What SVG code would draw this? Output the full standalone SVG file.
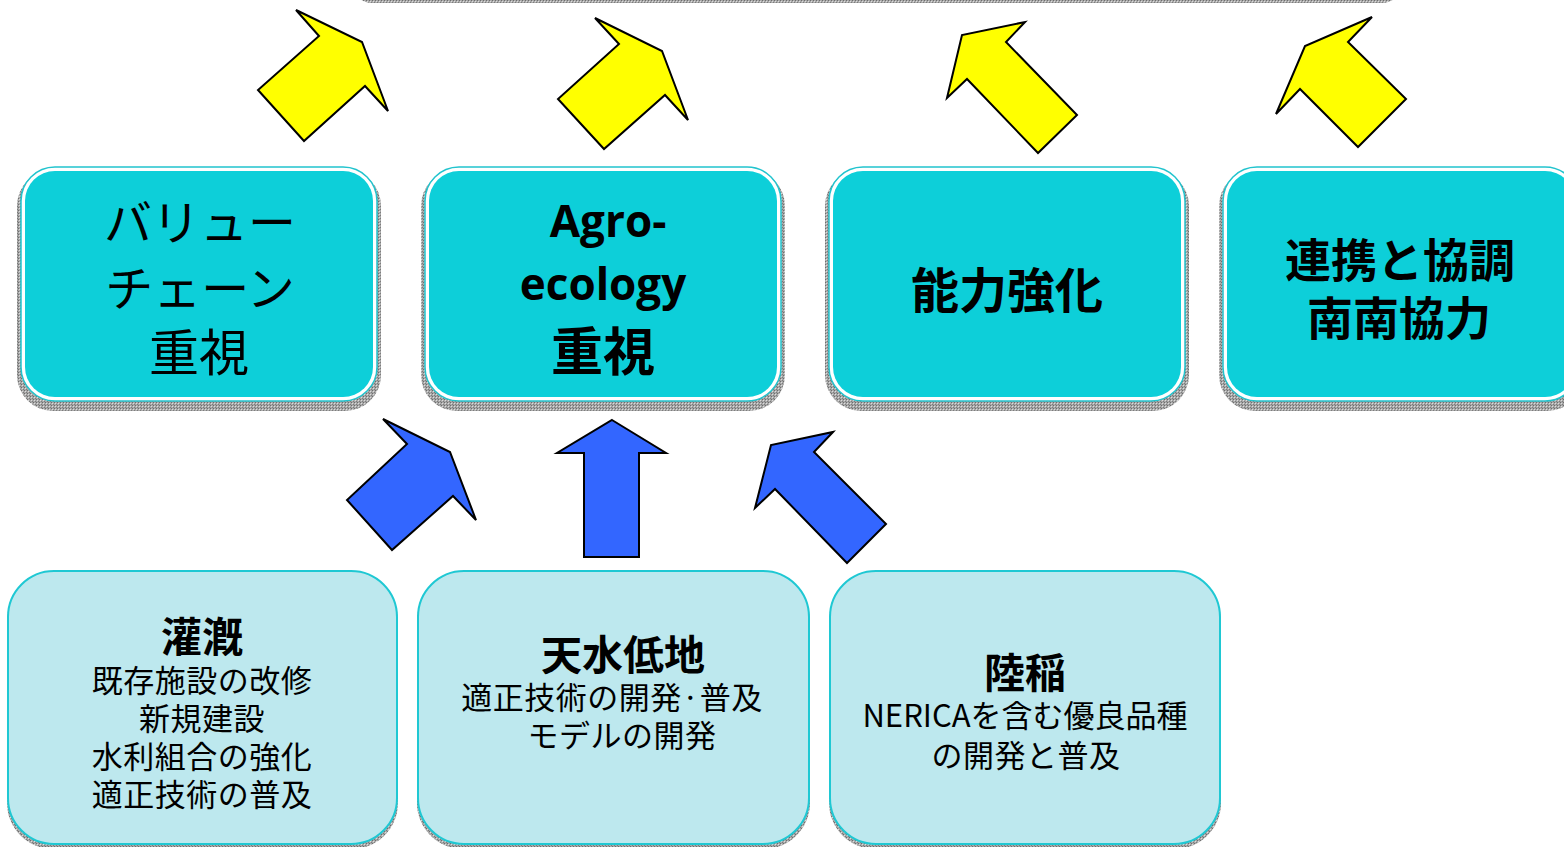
<svg xmlns="http://www.w3.org/2000/svg" width="1564" height="847" viewBox="0 0 1564 847">
<defs>
<pattern id="dith" width="3" height="3" patternUnits="userSpaceOnUse">
<rect width="3" height="3" fill="#a8a8a8"/>
<rect x="0" y="0" width="1" height="1" fill="#6e6e6e"/>
<rect x="1" y="1" width="1" height="1" fill="#dcdcdc"/>
<rect x="2" y="2" width="1" height="1" fill="#7c7c7c"/>
</pattern>
<style>
.sh{fill:url(#dith);}
.tout{fill:#ffffff;stroke:#22c4ce;stroke-width:1.5;}
.tin{fill:#0dcfd9;}
.bbox{fill:#bde8ee;stroke:#1fc8d3;stroke-width:2;}
.ya{fill:#ffff00;stroke:#000;stroke-width:2;stroke-linejoin:miter;}
.ba{fill:#3366ff;stroke:#000;stroke-width:2;stroke-linejoin:miter;}
.jp{font-family:"Noto Sans CJK JP","Noto Sans",sans-serif;fill:#000;text-anchor:middle;}
.lat{font-family:"Open Sans","Noto Sans",sans-serif;font-weight:bold;fill:#000;text-anchor:middle;}
.big{font-size:48px;}
.b{font-weight:bold;}
.sm{font-size:31px;letter-spacing:0.5px;font-weight:normal;}
.hd{font-size:41px;font-weight:bold;}
</style>
</defs>
<rect id="top-shadow" class="sh" x="352" y="-40" width="1050" height="43" rx="20"/>

<g id="connectors">
<polygon class="ya" points="296,10 319,36 258,90 304,141 365,86 388,111 362,42"/>
<polygon class="ya" points="595,18 619,44 558,99 604,149 665,95 688,120 662,51"/>
<polygon class="ya" points="1025,22 1006,42 1077,115 1038,153 967,79 947,98 962,35"/>
<polygon class="ya" points="1372,17 1348,42 1406,99 1358,147 1300,89 1276,114 1305,46"/>
<polygon class="ba" points="383,419 407,444 347,500 392,550 453,496 476,520 450,452"/>
<polygon class="ba" points="612,420 666,453 639,453 639,557 584,557 584,453 557,453"/>
<polygon class="ba" points="833,432 814,452 886,524 847,563 775,489 755,508 771,445"/>
</g>

<g id="node-value-chain">
<rect class="sh" x="17" y="170" width="364" height="241" rx="36"/>
<rect class="tout" x="21" y="167" width="356" height="234" rx="34"/>
<rect class="tin" x="25" y="171" width="348" height="226" rx="30"/>
<text class="jp big" x="200" y="240">バリュー<tspan x="200" y="306">チェーン</tspan><tspan x="199" y="371" font-size="50">重視</tspan></text>
</g>

<g id="node-agroecology">
<rect class="sh" x="421" y="170" width="364" height="241" rx="36"/>
<rect class="tout" x="425" y="167" width="356" height="234" rx="34"/>
<rect class="tin" x="429" y="171" width="348" height="226" rx="30"/>
<text class="lat" x="608" y="237" font-size="44">Agro-<tspan x="603" y="300">ecology</tspan><tspan x="603" y="371" font-size="52" style="font-family:'Noto Sans CJK JP',sans-serif">重視</tspan></text>
</g>

<g id="node-capacity">
<rect class="sh" x="825" y="170" width="364" height="241" rx="36"/>
<rect class="tout" x="829" y="167" width="356" height="234" rx="34"/>
<rect class="tin" x="833" y="171" width="348" height="226" rx="30"/>
<text class="jp b" x="1007" y="308" font-size="48">能力強化</text>
</g>

<g id="node-cooperation">
<rect class="sh" x="1219" y="170" width="364" height="241" rx="36"/>
<rect class="tout" x="1223" y="167" width="356" height="234" rx="34"/>
<rect class="tin" x="1227" y="171" width="348" height="226" rx="30"/>
<text class="jp b" x="1400" y="277" font-size="46">連携と協調<tspan x="1399" y="335">南南協力</tspan></text>
</g>

<g id="node-irrigation">
<rect class="sh" x="7" y="575" width="391" height="274" rx="46"/>
<rect class="bbox" x="8" y="571" width="389" height="273" rx="46"/>
<text class="jp hd" x="202" y="652">灌漑<tspan class="sm" x="202" y="692">既存施設の改修</tspan><tspan class="sm" x="202" y="730">新規建設</tspan><tspan class="sm" x="202" y="768">水利組合の強化</tspan><tspan class="sm" x="202" y="806">適正技術の普及</tspan></text>
</g>

<g id="node-rainfed-lowland">
<rect class="sh" x="417" y="575" width="393" height="274" rx="46"/>
<rect class="bbox" x="418" y="571" width="391" height="273" rx="46"/>
<text class="jp hd" x="623" y="670">天水低地<tspan class="sm" x="612" y="709">適正技術の開発·普及</tspan><tspan class="sm" x="622" y="747">モデルの開発</tspan></text>
</g>

<g id="node-upland-rice">
<rect class="sh" x="829" y="575" width="392" height="274" rx="46"/>
<rect class="bbox" x="830" y="571" width="390" height="273" rx="46"/>
<text class="jp hd" x="1025" y="688">陸稲<tspan class="sm" x="1025" y="727" style="letter-spacing:0px">NERICAを含む優良品種</tspan><tspan class="sm" x="1026" y="767">の開発と普及</tspan></text>
</g>
</svg>
